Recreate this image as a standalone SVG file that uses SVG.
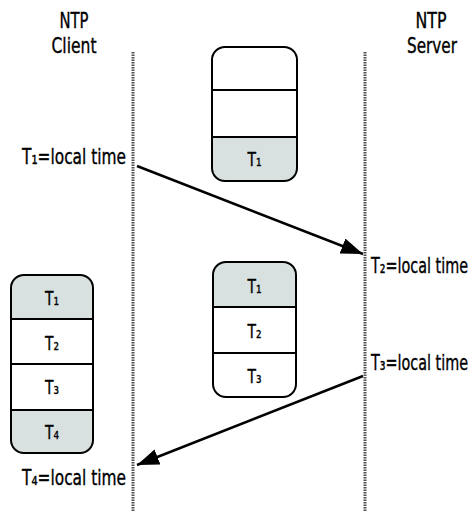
<svg xmlns="http://www.w3.org/2000/svg" width="474" height="515" viewBox="0 0 474 515">
<defs>
<style>
.t{font-family:"DejaVu Sans Condensed","DejaVu Sans",sans-serif;fill:#000;stroke:#000;stroke-width:0.35}
.h{font-size:22px}
.lbl{font-size:22px}
.bx{font-size:20px}
.sh{fill:#d8e0e0}
.div{stroke:#000;stroke-width:2}
.life{stroke:#505050;stroke-width:3;stroke-dasharray:1.5 1}
.msg{stroke:#000;stroke-width:2.5;fill:none;marker-end:url(#ah)}
</style>
<marker id="ah" markerUnits="userSpaceOnUse" markerWidth="24" markerHeight="18" refX="22" refY="8" orient="auto">
<path d="M0,0 L22,8 L0,16 Z" fill="#000"/>
</marker>
<clipPath id="cTop"><rect x="212" y="47" width="85" height="134" rx="13"/></clipPath>
<clipPath id="cMid"><rect x="213" y="262" width="83" height="135" rx="13"/></clipPath>
<clipPath id="cLeft"><rect x="11" y="275" width="82" height="178" rx="13"/></clipPath>
</defs>

<g id="client-header">
<text class="t h" x="74" y="28" text-anchor="middle" textLength="29" lengthAdjust="spacingAndGlyphs">NTP</text>
<text class="t h" x="74" y="53" text-anchor="middle" textLength="45" lengthAdjust="spacingAndGlyphs">Client</text>
</g>
<g id="server-header">
<text class="t h" x="431" y="28" text-anchor="middle" textLength="31" lengthAdjust="spacingAndGlyphs">NTP</text>
<text class="t h" x="432" y="53" text-anchor="middle" textLength="50" lengthAdjust="spacingAndGlyphs">Server</text>
</g>

<g id="lifelines">
<line class="life" x1="133" y1="52" x2="133" y2="512"/>
<line class="life" x1="365" y1="52" x2="365" y2="512"/>
</g>

<g id="packet-top">
<g clip-path="url(#cTop)">
<rect x="212" y="137" width="85" height="44" class="sh"/>
</g>
<rect x="212" y="47" width="85" height="134" rx="13" fill="none" stroke="#000" stroke-width="2"/>
<line class="div" x1="212" y1="90" x2="297" y2="90"/>
<line class="div" x1="212" y1="137" x2="297" y2="137"/>
<text class="t bx" x="254.5" y="166" text-anchor="middle" textLength="14" lengthAdjust="spacingAndGlyphs">T₁</text>
</g>

<g id="packet-mid">
<g clip-path="url(#cMid)">
<rect x="213" y="262" width="83" height="45" class="sh"/>
</g>
<rect x="213" y="262" width="83" height="135" rx="13" fill="none" stroke="#000" stroke-width="2"/>
<line class="div" x1="213" y1="307" x2="296" y2="307"/>
<line class="div" x1="213" y1="353" x2="296" y2="353"/>
<text class="t bx" x="254.5" y="293" text-anchor="middle" textLength="14" lengthAdjust="spacingAndGlyphs">T₁</text>
<text class="t bx" x="254.5" y="338" text-anchor="middle" textLength="14" lengthAdjust="spacingAndGlyphs">T₂</text>
<text class="t bx" x="254.5" y="383" text-anchor="middle" textLength="14" lengthAdjust="spacingAndGlyphs">T₃</text>
</g>

<g id="packet-left">
<g clip-path="url(#cLeft)">
<rect x="11" y="275" width="82" height="44" class="sh"/>
<rect x="11" y="410" width="82" height="43" class="sh"/>
</g>
<rect x="11" y="275" width="82" height="178" rx="13" fill="none" stroke="#000" stroke-width="2"/>
<line class="div" x1="11" y1="319" x2="93" y2="319"/>
<line class="div" x1="11" y1="364" x2="93" y2="364"/>
<line class="div" x1="11" y1="410" x2="93" y2="410"/>
<text class="t bx" x="52" y="305" text-anchor="middle" textLength="14" lengthAdjust="spacingAndGlyphs">T₁</text>
<text class="t bx" x="52" y="350" text-anchor="middle" textLength="14" lengthAdjust="spacingAndGlyphs">T₂</text>
<text class="t bx" x="52" y="394" text-anchor="middle" textLength="14" lengthAdjust="spacingAndGlyphs">T₃</text>
<text class="t bx" x="52" y="439" text-anchor="middle" textLength="14" lengthAdjust="spacingAndGlyphs">T₄</text>
</g>

<g id="labels">
<text class="t lbl" x="22" y="164" textLength="104" lengthAdjust="spacingAndGlyphs">T₁=local time</text>
<text class="t lbl" transform="translate(371,273) scale(0.73,1)" x="0" y="0" textLength="133" lengthAdjust="spacingAndGlyphs">T₂=local time</text>
<text class="t lbl" transform="translate(371,370) scale(0.73,1)" x="0" y="0" textLength="133" lengthAdjust="spacingAndGlyphs">T₃=local time</text>
<text class="t lbl" x="22" y="485" textLength="104" lengthAdjust="spacingAndGlyphs">T₄=local time</text>
</g>

<g id="connectors">
<line class="msg" x1="137" y1="166" x2="363" y2="254"/>
<line class="msg" x1="363" y1="376" x2="137" y2="465"/>
</g>
</svg>
